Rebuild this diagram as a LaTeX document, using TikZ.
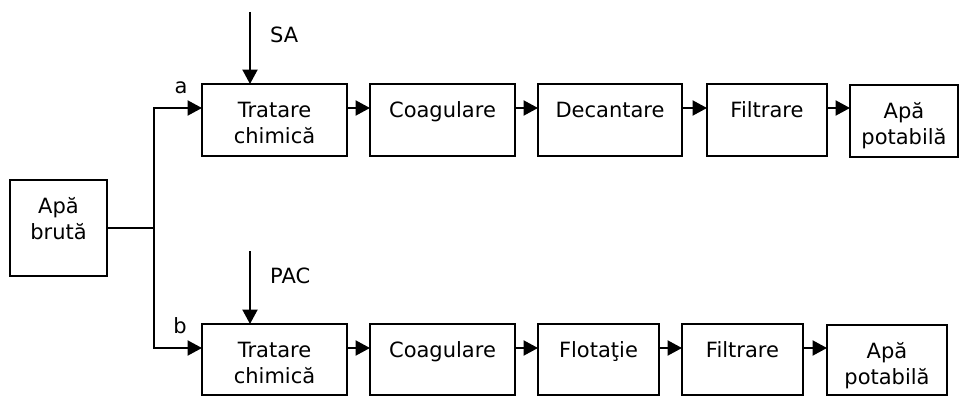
\documentclass[tikz,border=0pt]{standalone}
\usepackage{fontspec}
\setmainfont{DejaVu Sans}
\usetikzlibrary{arrows.meta}

% fixed-size box content: text starts at a fixed baseline below the top edge
\newcommand\stagetext[3]{\parbox[c][#2][t]{#1}{\centering\rule{0pt}{33pt}#3}}

\begin{document}
\begin{tikzpicture}[x=1pt, y=-1pt,
  font=\fontsize{21pt}{26.5pt}\selectfont,
  stage/.style={draw, line width=2.2pt, inner sep=0pt, outer sep=0pt, anchor=north west},
  link/.style={line width=2.2pt},
  arr/.style={line width=2.2pt, -{Triangle[length=14.5pt, width=15pt]}},
  tag/.style={inner sep=0pt, anchor=base}
]
\useasboundingbox (0,0) rectangle (960,396);

% raw water
\node[stage] (raw) at (10,180) {\stagetext{97pt}{96pt}{Apă\\brută}};

% branch a
\node[stage] (t1) at (202,84) {\stagetext{145pt}{72pt}{Tratare\\chimică}};
\node[stage] (t2) at (370,84) {\stagetext{145pt}{72pt}{Coagulare}};
\node[stage] (t3) at (538,84) {\stagetext{144pt}{72pt}{Decantare}};
\node[stage] (t4) at (707,84) {\stagetext{120pt}{72pt}{Filtrare}};
\node[stage] (t5) at (850,85) {\stagetext{108pt}{72pt}{Apă\\potabilă}};

% branch b
\node[stage] (b1) at (202,324) {\stagetext{145pt}{71pt}{Tratare\\chimică}};
\node[stage] (b2) at (370,324) {\stagetext{145pt}{71pt}{Coagulare}};
\node[stage] (b3) at (538,324) {\stagetext{121pt}{71pt}{Flotaţie}};
\node[stage] (b4) at (682,324) {\stagetext{121pt}{71pt}{Filtrare}};
\node[stage] (b5) at (827,325) {\stagetext{120pt}{70pt}{Apă\\potabilă}};

% flow levels and split point
\coordinate (rowA) at (0,108);
\coordinate (rowB) at (0,348);
\coordinate (split) at (154,228);
\coordinate (saTop) at (250,12);
\coordinate (pacTop) at (250,251);

% splitting of the raw water
\draw[link] (raw.east |- split) -- (split);
\draw[arr] (split) |- (t1.west |- rowA);
\draw[arr] (split) |- (b1.west |- rowB);

% reagent dosing
\draw[arr] (saTop) -- (saTop |- t1.north);
\draw[arr] (pacTop) -- (pacTop |- b1.north);

% process chains
\draw[arr] (t1.east |- rowA) -- (t2.west |- rowA);
\draw[arr] (t2.east |- rowA) -- (t3.west |- rowA);
\draw[arr] (t3.east |- rowA) -- (t4.west |- rowA);
\draw[arr] (t4.east |- rowA) -- (t5.west |- rowA);

\draw[arr] (b1.east |- rowB) -- (b2.west |- rowB);
\draw[arr] (b2.east |- rowB) -- (b3.west |- rowB);
\draw[arr] (b3.east |- rowB) -- (b4.west |- rowB);
\draw[arr] (b4.east |- rowB) -- (b5.west |- rowB);

% labels
\node[tag] (la) at (181,93) {a};
\node[tag] (lb) at (180,333) {b};
\node[tag, anchor=base west] (lsa) at (270,43) {SA};
\node[tag, anchor=base west] (lpac) at (270,283) {PAC};
\end{tikzpicture}
\end{document}
